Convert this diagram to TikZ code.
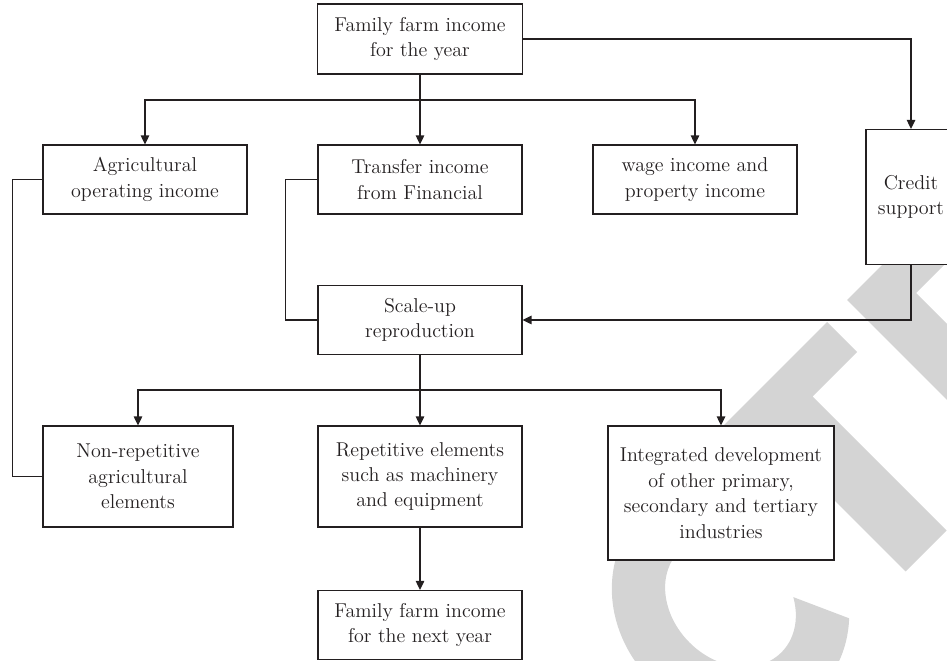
\documentclass[tikz,border=0pt]{standalone}
\usetikzlibrary{arrows.meta}
\definecolor{inkblack}{RGB}{35,31,32}
\definecolor{stampgray}{RGB}{212,212,212}

\begin{document}
\begin{tikzpicture}[
        x=0.02cm, y=-0.02cm,
        box/.style={draw=inkblack, fill=white, line width=0.7pt, align=center,
            text=inkblack, inner sep=2pt,
            minimum width=4.08cm, minimum height=1.38cm,
            font=\fontsize{11.4}{14.5}\selectfont},
        link/.style={draw=inkblack, line width=0.7pt},
        feed/.style={link, -{Triangle[length=1.8mm, width=1.7mm]}}
    ]

    \clip (0,0) rectangle (947,661);

    % stamp in the background
    \fill[stampgray] (711.5,437.5) -- (827,322) -- (857,352) -- (812.5,396.5)
        -- (946.5,530.5) -- (905.5,571.5) -- (771.5,437.5) -- (741.5,467.5) -- cycle;
    \fill[stampgray] (847,300) -- (1047,100) -- (1078,131) -- (916,293)
        -- (1016,393) -- (978,431) -- cycle;
    \begin{scope}[shift={(730.5,601.5)}, rotate=45]
        \fill[stampgray] (50:112 and 125)
            arc[start angle=50, end angle=300, x radius=112, y radius=125]
            -- (310:58 and 72)
            arc[start angle=310, end angle=35, x radius=58, y radius=72] -- cycle;
    \end{scope}

    % boxes
    \node[box, minimum width=4.1cm, minimum height=1.4cm] (thisyear) at (420,39)
        {Family farm income\\for the year};
    \node[box] (agri) at (145,179.5) {Agricultural\\operating income};
    \node[box] (transfer) at (420,179.5) {Transfer income\\from Financial};
    \node[box] (wage) at (695,179.5) {wage income and\\property income};
    \node[box, minimum width=1.8cm, minimum height=2.7cm] (credit) at (911,197) {Credit\\support};
    \node[box] (scaleup) at (420,320) {Scale-up\\reproduction};
    \node[box, minimum width=3.8cm, minimum height=2.02cm] (nonrep) at (138,476.5)
        {Non-repetitive\\agricultural\\elements};
    \node[box, minimum height=2.02cm] (rep) at (420,476.5)
        {Repetitive elements\\such as machinery\\and equipment};
    \node[box, minimum width=4.52cm, minimum height=2.68cm] (integ) at (721,493)
        {Integrated development\\of other primary,\\secondary and tertiary\\industries};
    \node[box] (nextyear) at (420,625) {Family farm income\\for the next year};

    % connectors
    \coordinate (split1) at (420,100);
    \coordinate (split2) at (420,390);

    \draw[link] (thisyear.south) -- (split1);
    \draw[feed] (split1) -| (agri.north);
    \draw[feed] (split1) -- (transfer.north);
    \draw[feed] (split1) -| (wage.north);
    \draw[feed] (thisyear.east) -| (credit.north);
    \draw[feed] (credit.south) |- (scaleup.east);
    \draw[link] (transfer.west) -- ++(-32,0) |- (scaleup.west);
    \draw[link] (agri.west) -- ++(-30,0) |- (nonrep.west);

    \draw[link] (scaleup.south) -- (split2);
    \draw[feed] (split2) -| (nonrep.north);
    \draw[feed] (split2) -- (rep.north);
    \draw[feed] (split2) -| (integ.north);
    \draw[feed] (rep.south) -- (nextyear.north);
\end{tikzpicture}
\end{document}
